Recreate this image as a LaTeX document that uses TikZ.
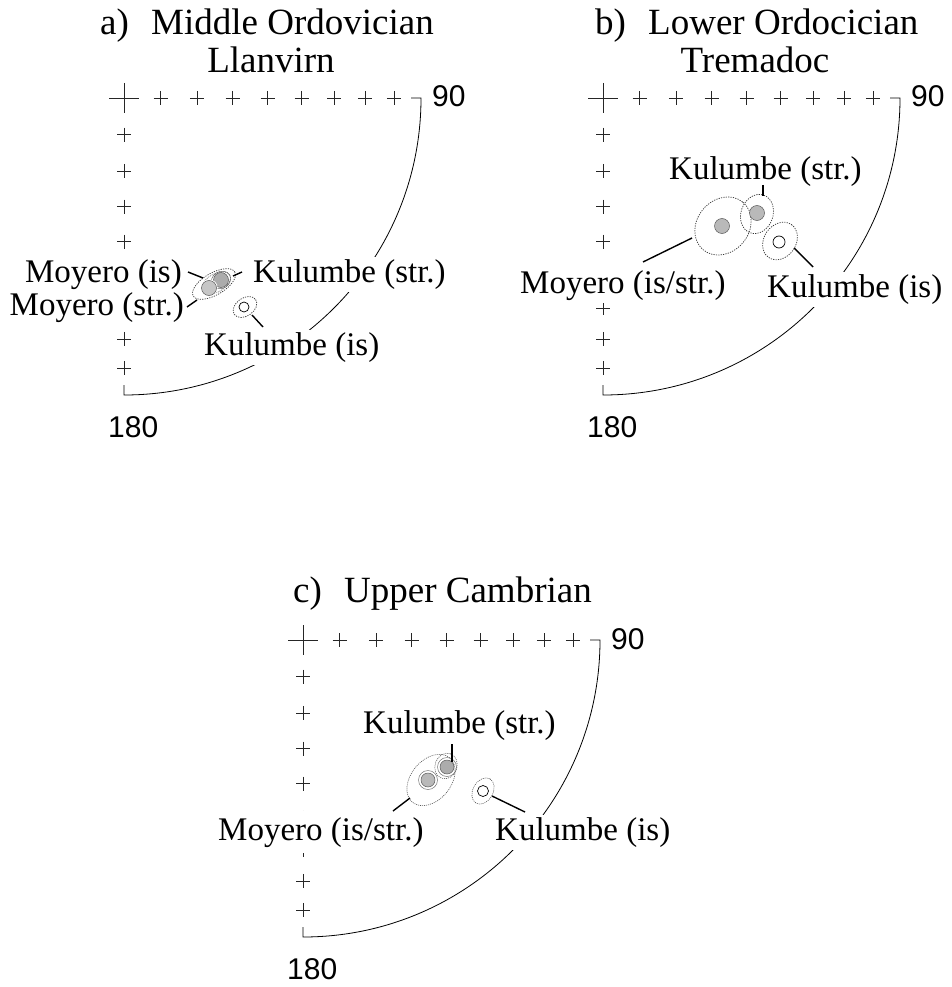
\documentclass[tikz,border=0pt]{standalone}
\usepackage{fontspec}
\setmainfont{Liberation Serif}
\newfontfamily\numfont{Liberation Sans}
\tikzset{
 lab/.style={fill=white, inner xsep=1pt, inner ysep=2.5pt, font=\fontsize{33}{36}\selectfont},
 ttl/.style={inner sep=0pt, font=\fontsize{37}{40}\selectfont},
 num/.style={inner sep=0pt, font=\numfont\fontsize{30}{32}\selectfont},
 gridmark/.style={line width=0.8pt, black!85},
 rim/.style={line width=0.8pt},
 leader/.style={line width=1.4pt},
 conf/.style={line width=0.7pt, dash pattern=on 1.2pt off 1.2pt, black!80},
 conflight/.style={line width=0.6pt, dash pattern=on 1pt off 1pt, black!65},
 fulldot/.style={circle, inner sep=0pt, minimum size=15pt, fill=gray!55, draw=black!65, line width=0.5pt},
 opendot/.style={circle, inner sep=0pt, fill=white, draw=black, line width=0.7pt},
}
\newcommand\mynet[1]{%
 \draw[gridmark] (-15,0) -- (15,0) (0,-15) -- (0,15);
 \foreach \k in {1,...,8}{
   \pgfmathsetmacro\rr{420.02*sin(5*\k)}
   \draw[gridmark] (\rr-7,0) -- (\rr+7,0) (\rr,-7) -- (\rr,7)
                   (-7,\rr) -- (7,\rr) (0,\rr-7) -- (0,\rr+7);
 }
 \draw[rim] (287,0) -- (297,0) arc[start angle=0, end angle=90, radius=297] -- (0,287);
 \node[num, anchor=base west] (#1-n90) at (308,9) {90};
 \node[num, anchor=base west] (#1-n180) at (-16,339) {180};
}
\begin{document}
\begin{tikzpicture}[x=1pt, y=-1pt]
\useasboundingbox (0,0) rectangle (951,987);

% ---------------- panel a ----------------
\begin{scope}[shift={(124,98)}]
 \mynet{a}
 \node[ttl, anchor=base west] (a-t1) at (-24,-63) {a)\hspace{0.6em}Middle Ordovician};
 \node[ttl, anchor=base] (a-t2) at (147,-25) {Llanvirn};
 \node[lab, anchor=base east] (a-mis) at (59,184) {Moyero (is)};
 \node[lab, anchor=base east] (a-mstr) at (61,217) {Moyero (str.)};
 \node[lab, anchor=base west] (a-kstr) at (128,184) {Kulumbe (str.)};
 \node[lab, anchor=base west] (a-kis) at (79,257) {Kulumbe (is)};
 \draw[conf, rotate around={30:(90,186)}] (90,186) ellipse [x radius=24, y radius=11];
 \draw[conflight, rotate around={30:(92,185)}] (92,185) ellipse [x radius=16, y radius=9];
 \node[fulldot, fill=gray!65] (a-dk) at (97,182) {};
 \draw[black!60, line width=0.5pt, rotate around={30:(97,182)}] (97,182) ellipse [x radius=10, y radius=8.5];
 \fill[white] (85,190) circle (8.7);
 \node[fulldot, fill=gray!45] (a-dm) at (85,190) {};
 \draw[conf, rotate around={35:(121,209)}] (121,209) ellipse [x radius=13, y radius=9];
 \node[opendot, minimum size=10pt] (a-ok) at (120,209) {};
 \coordinate (a-l1s) at (64,174); \coordinate (a-l1e) at (79,180);
 \coordinate (a-l2s) at (63,209); \coordinate (a-l2e) at (73,202);
 \coordinate (a-l3s) at (109,178); \coordinate (a-l3e) at (118,174);
 \coordinate (a-l4s) at (128,217); \coordinate (a-l4e) at (139,229);
 \draw[leader] (a-l1s) -- (a-l1e);
 \draw[leader] (a-l2s) -- (a-l2e);
 \draw[leader] (a-l3s) -- (a-l3e);
 \draw[leader] (a-l4s) -- (a-l4e);
\end{scope}

% ---------------- panel b ----------------
\begin{scope}[shift={(603,98)}]
 \mynet{b}
 \node[ttl, anchor=base west] (b-t1) at (-8,-63) {b)\hspace{0.6em}Lower Ordocician};
 \node[ttl, anchor=base] (b-t2) at (152,-25) {Tremadoc};
 \node[lab, anchor=base west] (b-kstr) at (65,82) {Kulumbe (str.)};
 \node[lab, anchor=base west] (b-m) at (-84,195) {Moyero (is/str.)};
 \node[lab, anchor=base west] (b-kis) at (163,199) {Kulumbe (is)};
 \draw[conf, rotate around={50:(120,128)}] (120,128) ellipse [x radius=31, y radius=26];
 \draw[conf, rotate around={70:(154,116)}] (154,116) ellipse [x radius=20, y radius=16];
 \draw[conf, rotate around={55:(177,143)}] (177,143) ellipse [x radius=20, y radius=16];
 \node[fulldot] (b-dm) at (119,128) {};
 \node[fulldot] (b-dk) at (154,115) {};
 \node[opendot, minimum size=12pt] (b-ok) at (176,144) {};
 \coordinate (b-l1s) at (160,87); \coordinate (b-l1e) at (160,98);
 \coordinate (b-l2s) at (89,140); \coordinate (b-l2e) at (40,164);
 \coordinate (b-l3s) at (191,150); \coordinate (b-l3e) at (210,169);
 \draw[leader] (b-l1s) -- (b-l1e);
 \draw[leader] (b-l2s) -- (b-l2e);
 \draw[leader] (b-l3s) -- (b-l3e);
\end{scope}

% ---------------- panel c ----------------
\begin{scope}[shift={(303,640)}]
 \mynet{c}
 \node[ttl, anchor=base west] (c-t1) at (-10,-38) {c)\hspace{0.6em}Upper Cambrian};
 \node[lab, anchor=base west] (c-kstr) at (59,93) {Kulumbe (str.)};
 \node[lab, anchor=base west, inner ysep=6pt] (c-m) at (-86,200) {Moyero (is/str.)};
 \node[lab, anchor=base west] (c-kis) at (191,200) {Kulumbe (is)};
 \draw[conflight, rotate around={50:(128,140)}] (128,140) ellipse [x radius=29, y radius=20];
 \draw[conflight, rotate around={70:(143,126)}] (143,126) ellipse [x radius=13, y radius=11];
 \draw[conflight, rotate around={60:(180,151)}] (180,151) ellipse [x radius=14, y radius=10];
 \node[fulldot, minimum size=14pt] (c-dm) at (125,140) {};
 \draw[black!55, line width=0.5pt] (c-dm) circle (9.5);
 \node[fulldot, minimum size=14pt, fill=gray!65] (c-dk) at (144,127) {};
 \draw[black!55, line width=0.5pt] (c-dk) circle (9.5);
 \node[opendot, minimum size=11pt] (c-ok) at (180,151) {};
 \coordinate (c-l1s) at (149,104); \coordinate (c-l1e) at (149,122);
 \coordinate (c-l2s) at (107,158); \coordinate (c-l2e) at (90,171);
 \coordinate (c-l3s) at (189,156); \coordinate (c-l3e) at (222,172);
 \draw[leader] (c-l1s) -- (c-l1e);
 \draw[leader] (c-l2s) -- (c-l2e);
 \draw[leader] (c-l3s) -- (c-l3e);
\end{scope}
\end{tikzpicture}
\end{document}
